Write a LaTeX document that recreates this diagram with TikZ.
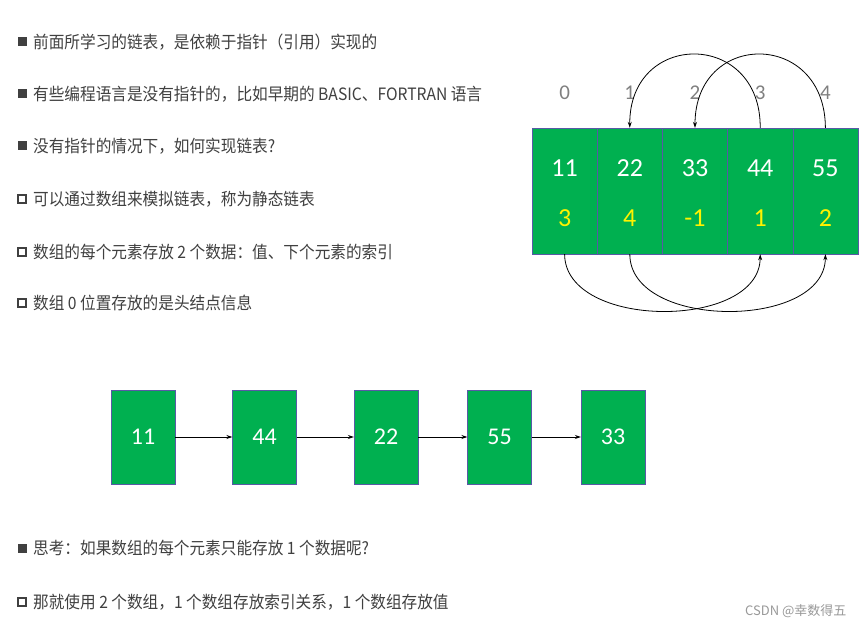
\documentclass[tikz,border=0pt]{standalone}
\usepackage{fontspec}
\setmainfont{Noto Sans CJK SC}
\newfontfamily\numfont{Carlito}
\newfontfamily\cjkc[FakeStretch=0.92]{Noto Sans CJK SC}
\usetikzlibrary{arrows.meta}
\definecolor{cgreen}{HTML}{00B050}
\definecolor{txtgray}{HTML}{404040}
\tikzset{
  bul/.style={anchor=west,font=\cjkc\fontsize{17}{17}\selectfont,text=txtgray,inner sep=0},
  fillsq/.style={fill=txtgray,minimum size=9pt,inner sep=0},
  hollowsq/.style={draw=txtgray,line width=2pt,minimum size=8pt,inner sep=0},
  cell/.style={draw=gray!70!blue,fill=cgreen,minimum width=65.2pt,minimum height=126pt,inner sep=0},
  chain/.style={draw=gray!70!blue,fill=cgreen,minimum width=64pt,minimum height=94pt,inner sep=0,text=white,font=\numfont\fontsize{24}{24}\selectfont},
  val/.style={text=white,font=\numfont\fontsize{26}{26}\selectfont},
  nxt/.style={text=yellow,font=\numfont\fontsize{26}{26}\selectfont},
  idx/.style={text=gray,font=\numfont\fontsize{21}{21}\selectfont},
  arr/.style={-{Stealth[length=6pt,width=4pt]},line width=0.8pt},
}
\begin{document}
\begin{tikzpicture}[x=1pt,y=-1pt]
\useasboundingbox[fill=white] (0,0) rectangle (865,631);
\node[fillsq] (b1) at (22,42) {};
\node[bul] (t1) at (33,42) {前面所学习的链表，是依赖于指针（引用）实现的};
\node[fillsq] (b2) at (22,94) {};
\node[bul] (t2) at (33,94) {有些编程语言是没有指针的，比如早期的 BASIC、FORTRAN 语言};
\node[fillsq] (b3) at (22,146) {};
\node[bul] (t3) at (33,146) {没有指针的情况下，如何实现链表?};
\node[hollowsq] (b4) at (22,199) {};
\node[bul] (t4) at (33,199) {可以通过数组来模拟链表，称为静态链表};
\node[hollowsq] (b5) at (22,252) {};
\node[bul] (t5) at (33,252) {数组的每个元素存放 2 个数据：值、下个元素的索引};
\node[hollowsq] (b6) at (22,303) {};
\node[bul] (t6) at (33,303) {数组 0 位置存放的是头结点信息};
\node[fillsq] (b7) at (22,548) {};
\node[bul] (t7) at (33,548) {思考：如果数组的每个元素只能存放 1 个数据呢?};
\node[hollowsq] (b8) at (22,602) {};
\node[bul] (t8) at (33,602) {那就使用 2 个数组，1 个数组存放索引关系，1 个数组存放值};
% array
\foreach \v/\n [count=\i from 0] in {11/3,22/4,33/-1,44/1,55/2}{
  \node[cell] (c\i) at (564.6+65.2*\i,191) {};
  \node[val] (v\i) at (564.6+65.2*\i,168) {\v};
  \node[nxt] (n\i) at (564.6+65.2*\i,218) {\n};
  \node[idx] (i\i) at (564.6+65.2*\i,93) {\i};
}
\draw[arr] (c3.north) .. controls (761,30) and (629,30) .. (c1.north);
\draw[arr] (c4.north) .. controls (825,30) and (695,30) .. (c2.north);
\draw[arr] (c0.south) .. controls (565,330) and (760,330) .. (c3.south);
\draw[arr] (c1.south) .. controls (630,330) and (825,330) .. (c4.south);
% chain
\node[chain] (k1) at (143,437) {11};
\node[chain] (k2) at (264.5,437) {44};
\node[chain] (k3) at (386,437) {22};
\node[chain] (k4) at (499.5,437) {55};
\node[chain] (k5) at (613,437) {33};
\draw[arr] (k1) -- (k2);
\draw[arr] (k2) -- (k3);
\draw[arr] (k3) -- (k4);
\draw[arr] (k4) -- (k5);
\node[anchor=east,text=gray!80,font=\fontsize{13}{13}\selectfont] (csdn) at (850,611) {CSDN @幸数得五};
\end{tikzpicture}
\end{document}
